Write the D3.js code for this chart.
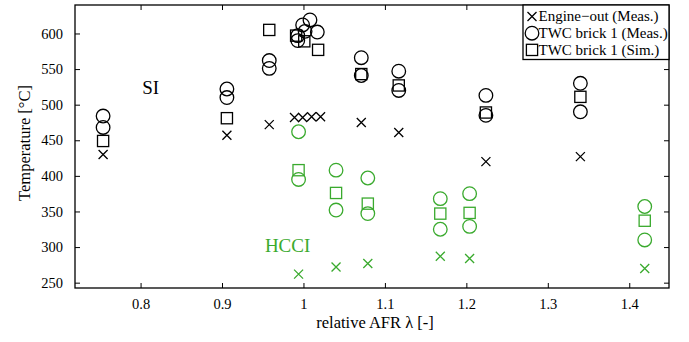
<!DOCTYPE html>
<html>
<head>
<meta charset="utf-8">
<script src="https://cdn.jsdelivr.net/npm/d3@7"></script>
<style>
  html, body { margin: 0; padding: 0; background: #fff; }
  svg { display: block; }
</style>
</head>
<body>
<svg id="chart" width="689" height="342"></svg>
<script>
// Exhaust temperatures over relative air-fuel ratio, [lambda, °C]
const siEngineOut = [[0.754,430],[0.906,457],[0.958,472],[0.989,482],[0.999,482],[1.010,483],[1.021,483],[1.071,475],[1.117,461],[1.224,420],[1.340,427]];
const siTwcMeas = [[0.754,484],[0.754,468],[0.906,522],[0.906,510],[0.958,562],[0.958,551],
  [0.993,597],[0.993,590],[0.999,612],[1.008,619],[1.002,603],[1.017,602],
  [1.071,566],[1.071,541],[1.117,547],[1.117,520],[1.224,513],[1.224,485],[1.340,530],[1.340,490]];
const siTwcSim = [[0.754,449],[0.906,481],[0.958,605],[0.991,597],[1.001,589],[1.018,577],[1.071,543],[1.117,527],[1.224,489],[1.340,511]];

const hcciEngineOut = [[0.994,262],[1.040,272],[1.079,277],[1.168,287],[1.204,284],[1.419,270]];
const hcciTwcMeas = [[0.994,462],[0.994,395],[1.040,408],[1.040,352],[1.079,397],[1.079,347],[1.168,368],[1.168,325],[1.204,375],[1.204,329],[1.419,357],[1.419,310]];
const hcciTwcSim = [[0.994,408],[1.040,376],[1.079,361],[1.168,347],[1.204,348],[1.419,337]];

const xTicks = [0.8, 0.9, 1.0, 1.1, 1.2, 1.3, 1.4];
const yTicks = [250, 300, 350, 400, 450, 500, 550, 600];
const legendLabels = ["Engine\u2212out (Meas.)", "TWC brick 1 (Meas.)", "TWC brick 1 (Sim.)"];

const black = "#000";
const green = "#3aaa2e";
const serif = "'Liberation Serif', 'DejaVu Serif', serif";

const W = 689, H = 342;
const m = { left: 75, right: 20, top: 5, bottom: 54 };
const pw = W - m.left - m.right, ph = H - m.top - m.bottom;

const svg = d3.select("#chart");
const g = svg.append("g").attr("transform", `translate(${m.left},${m.top})`);

const x = d3.scaleLinear().domain([0.7195, 1.4488]).range([0, pw]);
const y = d3.scaleLinear().domain([242.5, 640]).range([ph, 0]);

const fmtX = d => (d === 1 ? "1" : d3.format(".1f")(d));

// axes with inward ticks on all four sides
const tick = 5;
function styleAxis(sel) {
  sel.attr("font-family", serif).attr("font-size", 14.5);
  sel.select(".domain").remove();
  sel.selectAll(".tick line").attr("stroke", "#000").attr("stroke-width", 1);
  sel.selectAll(".tick text").attr("fill", "#000");
}
g.append("g").attr("transform", `translate(0,${ph})`)
  .call(d3.axisBottom(x).tickValues(xTicks).tickFormat(fmtX).tickSizeInner(-tick).tickPadding(11))
  .call(styleAxis);
g.append("g")
  .call(d3.axisTop(x).tickValues(xTicks).tickFormat("").tickSizeInner(-tick))
  .call(styleAxis);
g.append("g")
  .call(d3.axisLeft(y).tickValues(yTicks).tickSizeInner(-tick).tickPadding(12))
  .call(styleAxis);
g.append("g").attr("transform", `translate(${pw},0)`)
  .call(d3.axisRight(y).tickValues(yTicks).tickFormat("").tickSizeInner(-tick))
  .call(styleAxis);

g.append("rect").attr("width", pw).attr("height", ph)
  .attr("fill", "none").attr("stroke", "#000").attr("stroke-width", 1.3);

// marker drawers
const sw = 1.3;
function crosses(data, color) {
  const s = 4.5;
  g.append("g").selectAll("path").data(data).join("path")
    .attr("d", d => { const cx = x(d[0]), cy = y(d[1]);
      return `M${cx-s},${cy-s}L${cx+s},${cy+s}M${cx-s},${cy+s}L${cx+s},${cy-s}`; })
    .attr("stroke", color).attr("stroke-width", sw).attr("fill", "none");
}
function circles(data, color) {
  g.append("g").selectAll("circle").data(data).join("circle")
    .attr("cx", d => x(d[0])).attr("cy", d => y(d[1])).attr("r", 6.8)
    .attr("stroke", color).attr("stroke-width", sw).attr("fill", "none");
}
function squares(data, color) {
  const s = 5.6;
  g.append("g").selectAll("rect").data(data).join("rect")
    .attr("x", d => x(d[0]) - s).attr("y", d => y(d[1]) - s)
    .attr("width", 2 * s).attr("height", 2 * s)
    .attr("stroke", color).attr("stroke-width", sw).attr("fill", "none");
}

crosses(siEngineOut, black);
circles(siTwcMeas, black);
squares(siTwcSim, black);
crosses(hcciEngineOut, green);
circles(hcciTwcMeas, green);
squares(hcciTwcSim, green);

// operating mode labels
g.append("text").attr("x", x(0.8125)).attr("y", y(515)).attr("text-anchor", "middle")
  .attr("font-family", serif).attr("font-size", 19).attr("fill", "#000").text("SI");
g.append("text").attr("x", x(0.9805)).attr("y", y(293)).attr("text-anchor", "middle")
  .attr("font-family", serif).attr("font-size", 19).attr("fill", green).text("HCCI");

// axis titles
svg.append("text").attr("x", m.left + pw / 2 + 3).attr("y", 328).attr("text-anchor", "middle")
  .attr("font-family", serif).attr("font-size", 16.5).attr("fill", "#000").text("relative AFR \u03bb [-]");
svg.append("text").attr("transform", `translate(30,${143}) rotate(-90)`)
  .attr("text-anchor", "middle").attr("font-family", serif).attr("font-size", 16.5)
  .attr("fill", "#000").text("Temperature [\u00b0C]");

// legend
const lg = g.append("g").attr("transform", `translate(${pw - 146},0)`);
lg.append("rect").attr("width", 146).attr("height", 54.5)
  .attr("fill", "#fff").attr("stroke", "#000").attr("stroke-width", 1.3);
const legendRows = [
  { label: legendLabels[0], kind: "x" },
  { label: legendLabels[1], kind: "o" },
  { label: legendLabels[2], kind: "s" }
];
legendRows.forEach((r, i) => {
  const cy = 11.5 + i * 16.7, cx = 9;
  if (r.kind === "x") {
    const s = 4.5;
    lg.append("path").attr("d", `M${cx-s},${cy-s}L${cx+s},${cy+s}M${cx-s},${cy+s}L${cx+s},${cy-s}`)
      .attr("stroke", "#000").attr("stroke-width", sw);
  } else if (r.kind === "o") {
    lg.append("circle").attr("cx", cx).attr("cy", cy).attr("r", 6.8)
      .attr("fill", "none").attr("stroke", "#000").attr("stroke-width", sw);
  } else {
    lg.append("rect").attr("x", cx - 5.6).attr("y", cy - 5.6).attr("width", 11.2).attr("height", 11.2)
      .attr("fill", "none").attr("stroke", "#000").attr("stroke-width", sw);
  }
  lg.append("text").attr("x", 15.5).attr("y", cy + 4.8).attr("font-family", serif)
    .attr("font-size", 15).attr("fill", "#000").text(r.label);
});
</script>
</body>
</html>
